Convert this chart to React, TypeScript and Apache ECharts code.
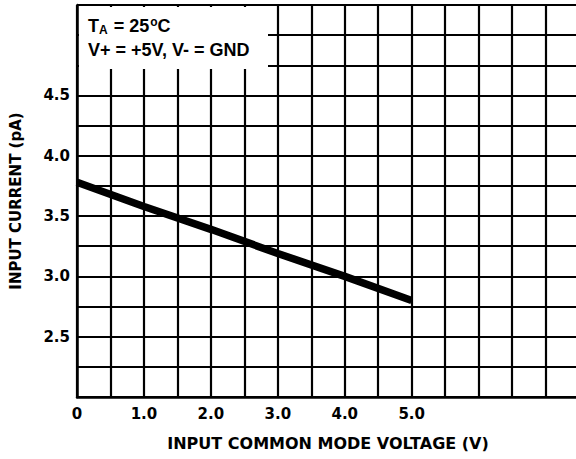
import React, { useEffect, useRef } from "react";
import * as echarts from "echarts";

const voltage = [0, 1, 2, 3, 4, 5];
const current = [3.78, 3.58, 3.39, 3.19, 3.0, 2.8];
const xTickLabels: Record<string, string> = { "0": "0", "1": "1.0", "2": "2.0", "3": "3.0", "4": "4.0", "5": "5.0" };
const yTickLabels: Record<string, string> = { "2.5": "2.5", "3": "3.0", "3.5": "3.5", "4": "4.0", "4.5": "4.5" };
const xTitle = "INPUT COMMON MODE VOLTAGE (V)";
const yTitle = "INPUT CURRENT (pA)";
const legendLine2 = "V+ = +5V, V- = GND";

export default function App() {
  const ref = useRef<HTMLDivElement>(null);
  useEffect(() => {
    if (!ref.current) return;
    const chart = echarts.init(ref.current, null, { renderer: "svg" });
    const tickFont = "DejaVu Sans";
    chart.setOption({
      animation: false,
      backgroundColor: "#fff",
      grid: { left: 77, right: 11, top: 5, bottom: 62, containLabel: false },
      xAxis: {
        type: "value",
        min: 0,
        max: 7.5,
        interval: 0.5,
        axisLine: { show: true, lineStyle: { color: "#000", width: 2.5 } },
        axisTick: { show: false },
        splitLine: { show: true, lineStyle: { color: "#000", width: 2.2 } },
        axisLabel: {
          color: "#000",
          fontFamily: tickFont,
          fontWeight: "bold",
          fontSize: 15,
          margin: 9,
          formatter: (v: number) => xTickLabels[String(v)] ?? "",
        },
        name: xTitle,
        nameLocation: "middle",
        nameGap: 38,
        nameTextStyle: { color: "#000", fontFamily: tickFont, fontWeight: "bold", fontSize: 16 },
      },
      yAxis: {
        type: "value",
        min: 2.0,
        max: 5.25,
        interval: 0.25,
        axisLine: { show: true, lineStyle: { color: "#000", width: 2.5 } },
        axisTick: { show: false },
        splitLine: { show: true, lineStyle: { color: "#000", width: 2.2 } },
        axisLabel: {
          color: "#000",
          fontFamily: tickFont,
          fontWeight: "bold",
          fontSize: 15,
          margin: 7,
          formatter: (v: number) => yTickLabels[String(v)] ?? "",
        },
        name: yTitle,
        nameLocation: "middle",
        nameGap: 54,
        nameTextStyle: { color: "#000", fontFamily: tickFont, fontWeight: "bold", fontSize: 15 },
      },
      series: [
        {
          type: "line",
          data: voltage.map((v, i) => [v, current[i]]),
          showSymbol: false,
          lineStyle: { color: "#000", width: 7.5, cap: "butt" },
          z: 5,
        },
      ],
      graphic: [
        {
          type: "rect",
          shape: { x: 79, y: 7, width: 189, height: 62 },
          style: { fill: "#fff" },
          z: 100,
        },
        {
          type: "text",
          z: 101,
          style: {
            x: 88,
            y: 26,
            verticalAlign: "middle",
            text: "{m|T}{sub|A}{m| = 25}{sup|o}{m|C}",
            rich: {
              m: { fontFamily: "Liberation Sans", fontWeight: "bold", fontSize: 18, fill: "#000", lineHeight: 20, verticalAlign: "middle" },
              sub: { fontFamily: "Liberation Sans", fontWeight: "bold", fontSize: 12, fill: "#000", lineHeight: 20, verticalAlign: "bottom", padding: [0, 1, 0, 0] },
              sup: { fontFamily: "Liberation Sans", fontWeight: "bold", fontSize: 12, fill: "#000", lineHeight: 20, verticalAlign: "top", padding: [0, 0, 0, 1] },
            },
          },
        },
        {
          type: "text",
          z: 101,
          style: {
            x: 88,
            y: 50,
            verticalAlign: "middle",
            text: legendLine2,
            font: "bold 18px 'Liberation Sans'",
            fill: "#000",
          },
        },
      ],
    });
    return () => chart.dispose();
  }, []);
  return (
    <div style={{ position: "fixed", left: 0, top: 0, width: 576, height: 459, overflow: "hidden", background: "#fff" }}>
      <div ref={ref} style={{ width: 590, height: 459 }} />
    </div>
  );
}
